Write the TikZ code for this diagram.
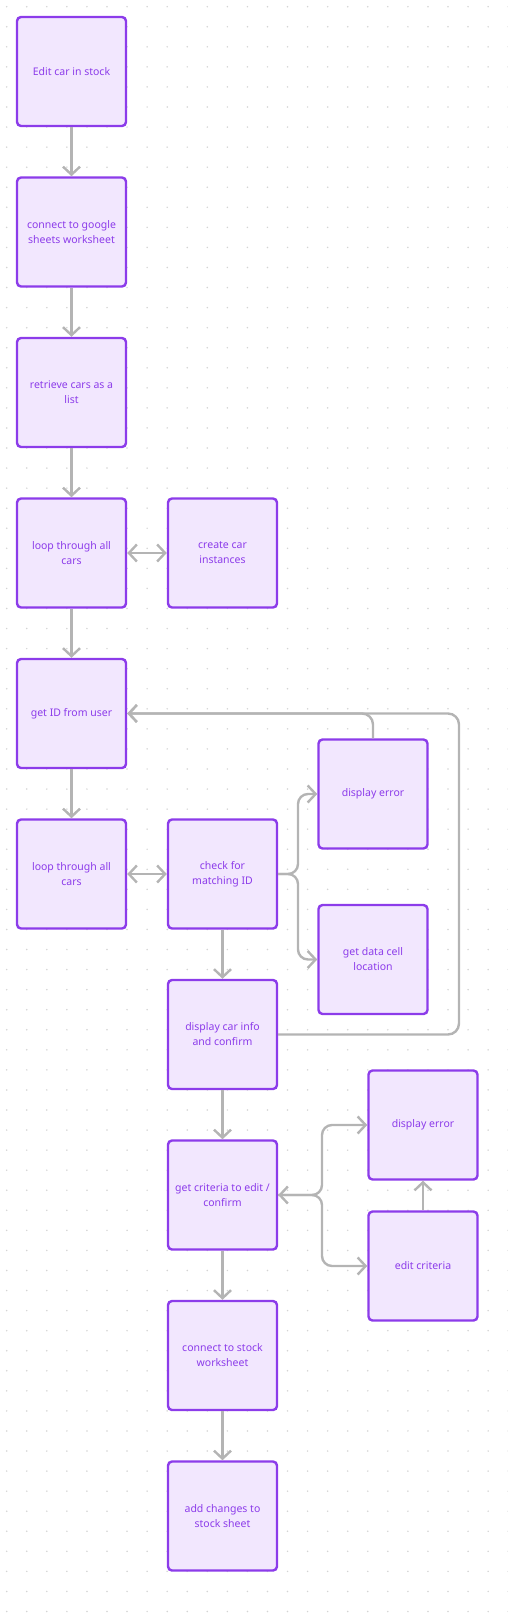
\documentclass[tikz,border=0pt]{standalone}
\usepackage{fontspec}
\setmainfont{Noto Sans}
\usepackage{xcolor}
\usepackage{tikz}
\usetikzlibrary{arrows.meta}
\definecolor{stepviolet}{RGB}{140, 60, 234}
\definecolor{stepfill}{RGB}{242, 231, 254}
\definecolor{linkgray}{RGB}{180, 180, 180}
\definecolor{dotgray}{RGB}{212, 212, 212}

\begin{document}
\begin{tikzpicture}[
  x=1pt, y=-1pt,
  >={Straight Barb[length=8pt, width=17pt]},
  stepbox/.style={
    rectangle, rounded corners=4pt, draw=stepviolet, fill=stepfill,
    line width=2.4pt, minimum width=109pt, minimum height=109pt,
    text=stepviolet, font=\fontsize{10.5}{15}\selectfont, align=center
  },
  link/.style={draw=linkgray, line width=2.4pt, rounded corners=11pt},
  fork/.style={draw=linkgray, line width=2.4pt, rounded corners=10pt},
]
\useasboundingbox (0,0) rectangle (508,1621);

% dotted canvas
\foreach \i in {0,...,25}
  \foreach \j in {0,...,80}
    \fill[dotgray] (6.7+20.06*\i, 6.7+20.06*\j) circle (0.85pt);

\def\colA{71.5}
\def\colB{222.5}
\def\colC{373}
\def\colD{423}

\def\rA{71.5}
\def\rB{232}
\def\rC{392.5}
\def\rD{553}
\def\rE{713.5}
\def\rF{874}
\def\rG{1034.5}
\def\rH{1195}
\def\rI{1355.5}
\def\rJ{1516}

\node[stepbox] (start)     at (\colA, \rA) {Edit car in stock};
\node[stepbox] (sheets)    at (\colA, \rB) {connect to google\\sheets worksheet};
\node[stepbox] (retrieve)  at (\colA, \rC) {retrieve cars as a\\list};
\node[stepbox] (loopA)     at (\colA, \rD) {loop through all\\cars};
\node[stepbox] (instances) at (\colB, \rD) {create car\\instances};
\node[stepbox] (getid)     at (\colA, \rE) {get ID from user};
\node[stepbox] (loopB)     at (\colA, \rF) {loop through all\\cars};
\node[stepbox] (match)     at (\colB, \rF) {check for\\matching ID};
\node[stepbox] (errA)      at (\colC, 794) {display error};
\node[stepbox] (cell)      at (\colC, 959.5) {get data cell\\location};
\node[stepbox] (info)      at (\colB, \rG) {display car info\\and confirm};
\node[stepbox] (criteria)  at (\colB, \rH) {get criteria to edit /\\confirm};
\node[stepbox] (errB)      at (\colD, 1125) {display error};
\node[stepbox] (editcrit)  at (\colD, 1266) {edit criteria};
\node[stepbox] (stock)     at (\colB, \rI) {connect to stock\\worksheet};
\node[stepbox] (changes)   at (\colB, \rJ) {add changes to\\stock sheet};

\coordinate (forkA) at (298, \rF);
\coordinate (forkB) at (322, \rH);
\coordinate (backC) at (459, \rE);

% 1. main column
\draw[link, ->] (start.south) -- (sheets.north);
\draw[link, ->] (sheets.south) -- (retrieve.north);
\draw[link, ->] (retrieve.south) -- (loopA.north);
\draw[link, <->] (loopA.east) -- (instances.west);
\draw[link, ->] (loopA.south) -- (getid.north);
\draw[link, ->] (getid.south) -- (loopB.north);
\draw[link, <->] (loopB.east) -- (match.west);

% 2. match check branches
\draw[fork, ->] (match.east) -- (forkA) |- (errA.west);
\draw[fork, ->] (match.east) -- (forkA) |- (cell.west);
\draw[link, ->] (match.south) -- (info.north);

% 3. back to user input
\draw[link, ->] (info.east) -| (backC) -- (getid.east);
\draw[link, ->] (errA.north) |- (getid.east);

% 4. criteria branches
\draw[link, ->] (info.south) -- (criteria.north);
\draw[fork, <->] (criteria.east) -- (forkB) |- (errB.west);
\draw[fork, ->] (criteria.east) -- (forkB) |- (editcrit.west);
\draw[link, ->] (editcrit.north) -- (errB.south);

% 5. write back
\draw[link, ->] (criteria.south) -- (stock.north);
\draw[link, ->] (stock.south) -- (changes.north);

\end{tikzpicture}
\end{document}
